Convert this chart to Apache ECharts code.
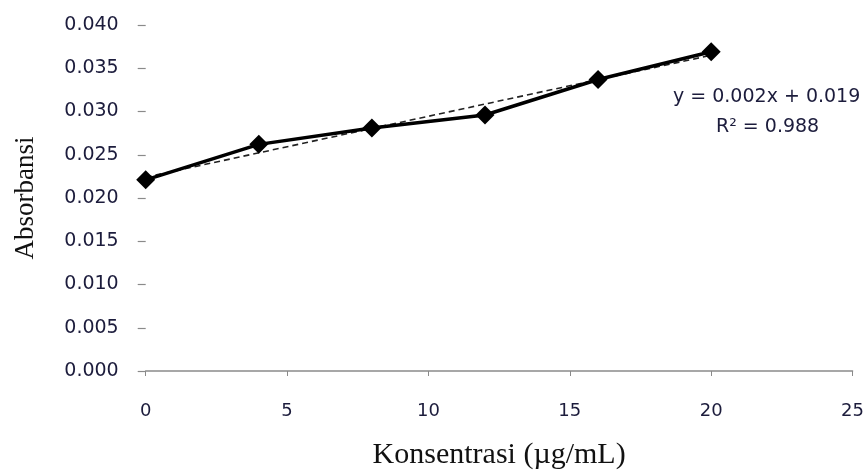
<!DOCTYPE html>
<html>
<head>
<meta charset="utf-8">
<script src="https://cdn.jsdelivr.net/npm/echarts@6/dist/echarts.min.js"></script>
<style>html,body{margin:0;padding:0;background:#fff;}#c{width:867px;height:475px;}</style>
</head>
<body>
<div id="c"></div>
<script>
// Data
var concentrations = [0, 4, 8, 12, 16, 20];
var absorbance = [0.0221, 0.0262, 0.0281, 0.0296, 0.0337, 0.0369];
var trendX = [0, 20];
var trendY = [0.0224, 0.0365];
var xTicks = [0, 5, 10, 15, 20, 25];
var yTicks = [0, 0.005, 0.010, 0.015, 0.020, 0.025, 0.030, 0.035, 0.040];
var equationText = 'y = 0.002x + 0.019';
var r2Text = 'R\u00b2 = 0.988';
var xTitle = 'Konsentrasi (\u00b5g/mL)';
var yTitle = 'Absorbansi';

var chart = echarts.init(document.getElementById('c'));
var labelColor = '#1c1c3c';
var labelFont = 'DejaVu Sans';
chart.setOption({
  animation: false,
  backgroundColor: '#ffffff',
  grid: { left: 145.7, right: 11, top: 25, bottom: 97, containLabel: false },
  xAxis: {
    type: 'value',
    min: xTicks[0], max: xTicks[xTicks.length - 1], interval: 5,
    name: xTitle, nameLocation: 'middle', nameGap: 69,
    nameTextStyle: { fontFamily: 'Liberation Serif', fontSize: 30, color: '#111' },
    axisLine: { show: true, lineStyle: { color: '#8a8a8a', width: 1.5 } },
    axisTick: { show: true, length: 5, lineStyle: { color: '#8a8a8a' } },
    axisLabel: { margin: 31, fontFamily: labelFont, fontSize: 18, color: labelColor },
    splitLine: { show: false }
  },
  yAxis: {
    type: 'value',
    min: yTicks[0], max: yTicks[yTicks.length - 1], interval: 0.005,
    name: yTitle, nameLocation: 'middle', nameGap: 106, nameRotate: 90,
    nameTextStyle: { fontFamily: 'Liberation Serif', fontSize: 27, color: '#111' },
    axisLine: { show: false },
    axisTick: { show: true, length: 8, lineStyle: { color: '#8a8a8a', width: 1.2 } },
    axisLabel: { margin: 27, fontFamily: labelFont, fontSize: 19, color: labelColor,
      formatter: function (v) { return v.toFixed(3); } },
    splitLine: { show: false }
  },
  series: [
    {
      type: 'line',
      data: trendX.map(function (x, i) { return [x, trendY[i]]; }),
      symbol: 'none',
      lineStyle: { color: '#222', width: 1.6, type: [6, 4] },
      z: 1
    },
    {
      type: 'line',
      data: concentrations.map(function (x, i) { return [x, absorbance[i]]; }),
      symbol: 'diamond',
      symbolSize: 19,
      itemStyle: { color: '#000' },
      lineStyle: { color: '#000', width: 3.5 },
      z: 2
    }
  ],
  graphic: [
    { type: 'text', left: 673, top: 88, style: { text: equationText, fontFamily: labelFont, fontSize: 19, fill: labelColor } },
    { type: 'text', left: 716, top: 118, style: { text: r2Text, fontFamily: labelFont, fontSize: 19, fill: labelColor } }
  ]
});
</script>
</body>
</html>
